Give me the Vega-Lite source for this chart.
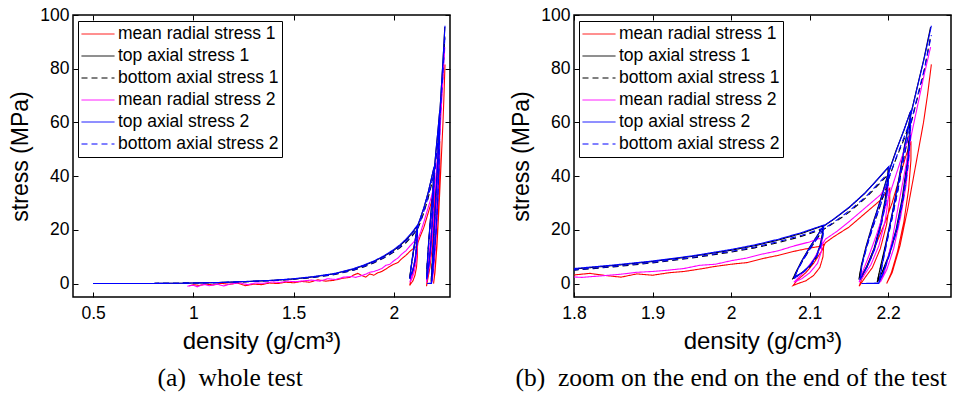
{
"$schema": "https://vega.github.io/schema/vega-lite/v6.json",
"background": "white",
"padding": {"left": 9, "top": 5, "right": 2, "bottom": 2},
"spacing": 58,
"config": {
  "font": "Liberation Sans",
  "view": {"stroke": "black", "strokeWidth": 1.5},
  "axis": {"domain": false, "grid": false, "labelFont": "Liberation Sans", "labelFontSize": 17.5, "labelColor": "black", "titleFont": "Liberation Sans", "titleFontSize": 24, "titleFontWeight": "normal", "titleColor": "black", "tickColor": "black", "tickSize": -5, "labelFlush": false},
  "axisX": {"labelPadding": 12, "titlePadding": 8},
  "axisY": {"labelPadding": 9, "titlePadding": 7, "titleFontSize": 23},
  "legend": {"orient": "none", "legendX": 5, "legendY": 6, "strokeColor": "black", "fillColor": "white", "padding": 3, "labelFont": "Liberation Sans", "labelFontSize": 17.5, "labelColor": "black", "symbolType": "stroke", "symbolSize": 1089, "symbolStrokeWidth": 1, "labelOffset": 3, "rowPadding": 2, "clipHeight": 20, "labelLimit": 300}
},
"datasets": {"d": [
{"s":"mean radial stress 1","i":1,"density":0.98,"stress":-0.8},
{"s":"mean radial stress 1","i":2,"density":1.0,"stress":-0.4},
{"s":"mean radial stress 1","i":3,"density":1.03,"stress":-0.7},
{"s":"mean radial stress 1","i":4,"density":1.06,"stress":-0.2},
{"s":"mean radial stress 1","i":5,"density":1.1,"stress":-0.5},
{"s":"mean radial stress 1","i":6,"density":1.14,"stress":0.1},
{"s":"mean radial stress 1","i":7,"density":1.18,"stress":-0.3},
{"s":"mean radial stress 1","i":8,"density":1.22,"stress":0.2},
{"s":"mean radial stress 1","i":9,"density":1.26,"stress":-0.8},
{"s":"mean radial stress 1","i":10,"density":1.3,"stress":-0.2},
{"s":"mean radial stress 1","i":11,"density":1.34,"stress":-0.4},
{"s":"mean radial stress 1","i":12,"density":1.38,"stress":0.2},
{"s":"mean radial stress 1","i":13,"density":1.42,"stress":0.0},
{"s":"mean radial stress 1","i":14,"density":1.46,"stress":0.5},
{"s":"mean radial stress 1","i":15,"density":1.5,"stress":0.3},
{"s":"mean radial stress 1","i":16,"density":1.54,"stress":0.8},
{"s":"mean radial stress 1","i":17,"density":1.58,"stress":0.5},
{"s":"mean radial stress 1","i":18,"density":1.62,"stress":1.4},
{"s":"mean radial stress 1","i":19,"density":1.66,"stress":0.9},
{"s":"mean radial stress 1","i":20,"density":1.7,"stress":1.2},
{"s":"mean radial stress 1","i":21,"density":1.74,"stress":1.9},
{"s":"mean radial stress 1","i":22,"density":1.78,"stress":2.3},
{"s":"mean radial stress 1","i":23,"density":1.8,"stress":3.2},
{"s":"mean radial stress 1","i":24,"density":1.82,"stress":3.8},
{"s":"mean radial stress 1","i":25,"density":1.84,"stress":3.0},
{"s":"mean radial stress 1","i":26,"density":1.86,"stress":2.4},
{"s":"mean radial stress 1","i":27,"density":1.88,"stress":3.6},
{"s":"mean radial stress 1","i":28,"density":1.9,"stress":3.1},
{"s":"mean radial stress 1","i":29,"density":1.92,"stress":4.0},
{"s":"mean radial stress 1","i":30,"density":1.94,"stress":4.5},
{"s":"mean radial stress 1","i":31,"density":1.96,"stress":5.4},
{"s":"mean radial stress 1","i":32,"density":1.98,"stress":6.4},
{"s":"mean radial stress 1","i":33,"density":2.0,"stress":7.2},
{"s":"mean radial stress 1","i":34,"density":2.02,"stress":7.8},
{"s":"mean radial stress 1","i":35,"density":2.04,"stress":9.3},
{"s":"mean radial stress 1","i":36,"density":2.06,"stress":10.5},
{"s":"mean radial stress 1","i":37,"density":2.08,"stress":12.0},
{"s":"mean radial stress 1","i":38,"density":2.1,"stress":13.2},
{"s":"mean radial stress 1","i":39,"density":2.112,"stress":13.8},
{"s":"mean radial stress 1","i":40,"density":2.118,"stress":14.6},
{"s":"mean radial stress 1","i":41,"density":2.117,"stress":10},
{"s":"mean radial stress 1","i":42,"density":2.113,"stress":6},
{"s":"mean radial stress 1","i":43,"density":2.105,"stress":3},
{"s":"mean radial stress 1","i":44,"density":2.095,"stress":1},
{"s":"mean radial stress 1","i":45,"density":2.085,"stress":0},
{"s":"mean radial stress 1","i":46,"density":2.079,"stress":-0.7},
{"s":"mean radial stress 1","i":47,"density":2.085,"stress":1.5},
{"s":"mean radial stress 1","i":48,"density":2.095,"stress":4},
{"s":"mean radial stress 1","i":49,"density":2.105,"stress":7.5},
{"s":"mean radial stress 1","i":50,"density":2.115,"stress":12},
{"s":"mean radial stress 1","i":51,"density":2.12,"stress":15.2},
{"s":"mean radial stress 1","i":52,"density":2.13,"stress":17.3},
{"s":"mean radial stress 1","i":53,"density":2.15,"stress":21},
{"s":"mean radial stress 1","i":54,"density":2.17,"stress":26},
{"s":"mean radial stress 1","i":55,"density":2.19,"stress":31},
{"s":"mean radial stress 1","i":56,"density":2.202,"stress":35.5},
{"s":"mean radial stress 1","i":57,"density":2.202,"stress":30},
{"s":"mean radial stress 1","i":58,"density":2.198,"stress":22},
{"s":"mean radial stress 1","i":59,"density":2.19,"stress":13},
{"s":"mean radial stress 1","i":60,"density":2.18,"stress":6},
{"s":"mean radial stress 1","i":61,"density":2.17,"stress":2},
{"s":"mean radial stress 1","i":62,"density":2.163,"stress":-1},
{"s":"mean radial stress 1","i":63,"density":2.168,"stress":3},
{"s":"mean radial stress 1","i":64,"density":2.175,"stress":8},
{"s":"mean radial stress 1","i":65,"density":2.185,"stress":15},
{"s":"mean radial stress 1","i":66,"density":2.195,"stress":22},
{"s":"mean radial stress 1","i":67,"density":2.205,"stress":30},
{"s":"mean radial stress 1","i":68,"density":2.215,"stress":40},
{"s":"mean radial stress 1","i":69,"density":2.222,"stress":47},
{"s":"mean radial stress 1","i":70,"density":2.229,"stress":53},
{"s":"mean radial stress 1","i":71,"density":2.229,"stress":46},
{"s":"mean radial stress 1","i":72,"density":2.226,"stress":35},
{"s":"mean radial stress 1","i":73,"density":2.22,"stress":23},
{"s":"mean radial stress 1","i":74,"density":2.212,"stress":12},
{"s":"mean radial stress 1","i":75,"density":2.204,"stress":4},
{"s":"mean radial stress 1","i":76,"density":2.198,"stress":0},
{"s":"mean radial stress 1","i":77,"density":2.205,"stress":4},
{"s":"mean radial stress 1","i":78,"density":2.215,"stress":14},
{"s":"mean radial stress 1","i":79,"density":2.225,"stress":28},
{"s":"mean radial stress 1","i":80,"density":2.235,"stress":44},
{"s":"mean radial stress 1","i":81,"density":2.245,"stress":60},
{"s":"mean radial stress 1","i":82,"density":2.25,"stress":70},
{"s":"mean radial stress 1","i":83,"density":2.255,"stress":81.6},

{"s":"top axial stress 1","i":1,"density":0.5,"stress":0},
{"s":"top axial stress 1","i":2,"density":0.6,"stress":0},
{"s":"top axial stress 1","i":3,"density":0.7,"stress":0},
{"s":"top axial stress 1","i":4,"density":0.8,"stress":0.05},
{"s":"top axial stress 1","i":5,"density":0.9,"stress":0.1},
{"s":"top axial stress 1","i":6,"density":1.0,"stress":0.2},
{"s":"top axial stress 1","i":7,"density":1.1,"stress":0.35},
{"s":"top axial stress 1","i":8,"density":1.2,"stress":0.55},
{"s":"top axial stress 1","i":9,"density":1.3,"stress":0.85},
{"s":"top axial stress 1","i":10,"density":1.4,"stress":1.2},
{"s":"top axial stress 1","i":11,"density":1.5,"stress":1.7},
{"s":"top axial stress 1","i":12,"density":1.6,"stress":2.5},
{"s":"top axial stress 1","i":13,"density":1.7,"stress":3.6},
{"s":"top axial stress 1","i":14,"density":1.8,"stress":5.4},
{"s":"top axial stress 1","i":15,"density":1.85,"stress":6.7},
{"s":"top axial stress 1","i":16,"density":1.9,"stress":8.2},
{"s":"top axial stress 1","i":17,"density":1.95,"stress":10.1},
{"s":"top axial stress 1","i":18,"density":2.0,"stress":12.4},
{"s":"top axial stress 1","i":19,"density":2.03,"stress":14.1},
{"s":"top axial stress 1","i":20,"density":2.06,"stress":16.2},
{"s":"top axial stress 1","i":21,"density":2.09,"stress":18.7},
{"s":"top axial stress 1","i":22,"density":2.117,"stress":21.5},
{"s":"top axial stress 1","i":23,"density":2.116,"stress":18},
{"s":"top axial stress 1","i":24,"density":2.113,"stress":14},
{"s":"top axial stress 1","i":25,"density":2.108,"stress":10},
{"s":"top axial stress 1","i":26,"density":2.1,"stress":6.5},
{"s":"top axial stress 1","i":27,"density":2.09,"stress":4},
{"s":"top axial stress 1","i":28,"density":2.082,"stress":2.6},
{"s":"top axial stress 1","i":29,"density":2.079,"stress":2},
{"s":"top axial stress 1","i":30,"density":2.083,"stress":4.5},
{"s":"top axial stress 1","i":31,"density":2.09,"stress":8.5},
{"s":"top axial stress 1","i":32,"density":2.1,"stress":13.5},
{"s":"top axial stress 1","i":33,"density":2.11,"stress":18},
{"s":"top axial stress 1","i":34,"density":2.117,"stress":21.2},
{"s":"top axial stress 1","i":35,"density":2.13,"stress":23.8},
{"s":"top axial stress 1","i":36,"density":2.15,"stress":28.2},
{"s":"top axial stress 1","i":37,"density":2.17,"stress":33.5},
{"s":"top axial stress 1","i":38,"density":2.185,"stress":38.3},
{"s":"top axial stress 1","i":39,"density":2.2,"stress":43.2},
{"s":"top axial stress 1","i":40,"density":2.199,"stress":38},
{"s":"top axial stress 1","i":41,"density":2.196,"stress":31},
{"s":"top axial stress 1","i":42,"density":2.19,"stress":22},
{"s":"top axial stress 1","i":43,"density":2.182,"stress":13},
{"s":"top axial stress 1","i":44,"density":2.173,"stress":6.5},
{"s":"top axial stress 1","i":45,"density":2.166,"stress":3},
{"s":"top axial stress 1","i":46,"density":2.163,"stress":2},
{"s":"top axial stress 1","i":47,"density":2.166,"stress":7},
{"s":"top axial stress 1","i":48,"density":2.172,"stress":14},
{"s":"top axial stress 1","i":49,"density":2.18,"stress":22},
{"s":"top axial stress 1","i":50,"density":2.19,"stress":31},
{"s":"top axial stress 1","i":51,"density":2.2,"stress":41},
{"s":"top axial stress 1","i":52,"density":2.21,"stress":49.5},
{"s":"top axial stress 1","i":53,"density":2.22,"stress":57},
{"s":"top axial stress 1","i":54,"density":2.228,"stress":63.8},
{"s":"top axial stress 1","i":55,"density":2.227,"stress":56},
{"s":"top axial stress 1","i":56,"density":2.224,"stress":45},
{"s":"top axial stress 1","i":57,"density":2.218,"stress":32},
{"s":"top axial stress 1","i":58,"density":2.21,"stress":20},
{"s":"top axial stress 1","i":59,"density":2.2,"stress":10},
{"s":"top axial stress 1","i":60,"density":2.192,"stress":4},
{"s":"top axial stress 1","i":61,"density":2.186,"stress":0.5},
{"s":"top axial stress 1","i":62,"density":2.19,"stress":6},
{"s":"top axial stress 1","i":63,"density":2.197,"stress":15},
{"s":"top axial stress 1","i":64,"density":2.205,"stress":26},
{"s":"top axial stress 1","i":65,"density":2.213,"stress":38},
{"s":"top axial stress 1","i":66,"density":2.22,"stress":50},
{"s":"top axial stress 1","i":67,"density":2.228,"stress":62},
{"s":"top axial stress 1","i":68,"density":2.236,"stress":72},
{"s":"top axial stress 1","i":69,"density":2.245,"stress":83},
{"s":"top axial stress 1","i":70,"density":2.254,"stress":95.5},

{"s":"bottom axial stress 1","i":1,"density":0.5,"stress":0},
{"s":"bottom axial stress 1","i":2,"density":0.6,"stress":0},
{"s":"bottom axial stress 1","i":3,"density":0.7,"stress":0},
{"s":"bottom axial stress 1","i":4,"density":0.8,"stress":0.05},
{"s":"bottom axial stress 1","i":5,"density":0.9,"stress":0.1},
{"s":"bottom axial stress 1","i":6,"density":1.0,"stress":0.2},
{"s":"bottom axial stress 1","i":7,"density":1.1,"stress":0.3},
{"s":"bottom axial stress 1","i":8,"density":1.2,"stress":0.5},
{"s":"bottom axial stress 1","i":9,"density":1.3,"stress":0.8},
{"s":"bottom axial stress 1","i":10,"density":1.4,"stress":1.1},
{"s":"bottom axial stress 1","i":11,"density":1.5,"stress":1.6},
{"s":"bottom axial stress 1","i":12,"density":1.6,"stress":2.3},
{"s":"bottom axial stress 1","i":13,"density":1.7,"stress":3.3},
{"s":"bottom axial stress 1","i":14,"density":1.8,"stress":5.0},
{"s":"bottom axial stress 1","i":15,"density":1.85,"stress":6.2},
{"s":"bottom axial stress 1","i":16,"density":1.9,"stress":7.7},
{"s":"bottom axial stress 1","i":17,"density":1.95,"stress":9.5},
{"s":"bottom axial stress 1","i":18,"density":2.0,"stress":11.7},
{"s":"bottom axial stress 1","i":19,"density":2.03,"stress":13.3},
{"s":"bottom axial stress 1","i":20,"density":2.06,"stress":15.2},
{"s":"bottom axial stress 1","i":21,"density":2.09,"stress":17.6},
{"s":"bottom axial stress 1","i":22,"density":2.117,"stress":20.3},
{"s":"bottom axial stress 1","i":23,"density":2.116,"stress":17},
{"s":"bottom axial stress 1","i":24,"density":2.113,"stress":13.2},
{"s":"bottom axial stress 1","i":25,"density":2.108,"stress":9.4},
{"s":"bottom axial stress 1","i":26,"density":2.1,"stress":6.1},
{"s":"bottom axial stress 1","i":27,"density":2.09,"stress":3.8},
{"s":"bottom axial stress 1","i":28,"density":2.082,"stress":2.4},
{"s":"bottom axial stress 1","i":29,"density":2.079,"stress":1.9},
{"s":"bottom axial stress 1","i":30,"density":2.083,"stress":4.2},
{"s":"bottom axial stress 1","i":31,"density":2.09,"stress":8},
{"s":"bottom axial stress 1","i":32,"density":2.1,"stress":12.7},
{"s":"bottom axial stress 1","i":33,"density":2.11,"stress":17},
{"s":"bottom axial stress 1","i":34,"density":2.117,"stress":20},
{"s":"bottom axial stress 1","i":35,"density":2.13,"stress":22.4},
{"s":"bottom axial stress 1","i":36,"density":2.15,"stress":26.5},
{"s":"bottom axial stress 1","i":37,"density":2.17,"stress":31.5},
{"s":"bottom axial stress 1","i":38,"density":2.185,"stress":36},
{"s":"bottom axial stress 1","i":39,"density":2.2,"stress":40.6},
{"s":"bottom axial stress 1","i":40,"density":2.199,"stress":35.7},
{"s":"bottom axial stress 1","i":41,"density":2.196,"stress":29.1},
{"s":"bottom axial stress 1","i":42,"density":2.19,"stress":20.7},
{"s":"bottom axial stress 1","i":43,"density":2.182,"stress":12.2},
{"s":"bottom axial stress 1","i":44,"density":2.173,"stress":6.1},
{"s":"bottom axial stress 1","i":45,"density":2.166,"stress":2.8},
{"s":"bottom axial stress 1","i":46,"density":2.163,"stress":1.9},
{"s":"bottom axial stress 1","i":47,"density":2.166,"stress":6.6},
{"s":"bottom axial stress 1","i":48,"density":2.172,"stress":13.2},
{"s":"bottom axial stress 1","i":49,"density":2.18,"stress":20.7},
{"s":"bottom axial stress 1","i":50,"density":2.19,"stress":29.1},
{"s":"bottom axial stress 1","i":51,"density":2.2,"stress":38.5},
{"s":"bottom axial stress 1","i":52,"density":2.21,"stress":46.5},
{"s":"bottom axial stress 1","i":53,"density":2.22,"stress":53.6},
{"s":"bottom axial stress 1","i":54,"density":2.228,"stress":60},
{"s":"bottom axial stress 1","i":55,"density":2.227,"stress":52.6},
{"s":"bottom axial stress 1","i":56,"density":2.224,"stress":42.3},
{"s":"bottom axial stress 1","i":57,"density":2.218,"stress":30.1},
{"s":"bottom axial stress 1","i":58,"density":2.21,"stress":18.8},
{"s":"bottom axial stress 1","i":59,"density":2.2,"stress":9.4},
{"s":"bottom axial stress 1","i":60,"density":2.192,"stress":3.8},
{"s":"bottom axial stress 1","i":61,"density":2.186,"stress":0.5},
{"s":"bottom axial stress 1","i":62,"density":2.19,"stress":5.6},
{"s":"bottom axial stress 1","i":63,"density":2.197,"stress":14.1},
{"s":"bottom axial stress 1","i":64,"density":2.205,"stress":24.4},
{"s":"bottom axial stress 1","i":65,"density":2.213,"stress":35.7},
{"s":"bottom axial stress 1","i":66,"density":2.22,"stress":47},
{"s":"bottom axial stress 1","i":67,"density":2.228,"stress":58.3},
{"s":"bottom axial stress 1","i":68,"density":2.236,"stress":67.7},
{"s":"bottom axial stress 1","i":69,"density":2.245,"stress":78},
{"s":"bottom axial stress 1","i":70,"density":2.254,"stress":92},

{"s":"mean radial stress 2","i":1,"density":0.97,"stress":-1.0},
{"s":"mean radial stress 2","i":2,"density":1.0,"stress":-0.6},
{"s":"mean radial stress 2","i":3,"density":1.02,"stress":-1.2},
{"s":"mean radial stress 2","i":4,"density":1.05,"stress":-0.3},
{"s":"mean radial stress 2","i":5,"density":1.08,"stress":-0.8},
{"s":"mean radial stress 2","i":6,"density":1.12,"stress":-0.2},
{"s":"mean radial stress 2","i":7,"density":1.15,"stress":-0.9},
{"s":"mean radial stress 2","i":8,"density":1.19,"stress":-0.1},
{"s":"mean radial stress 2","i":9,"density":1.23,"stress":0.3},
{"s":"mean radial stress 2","i":10,"density":1.27,"stress":-0.4},
{"s":"mean radial stress 2","i":11,"density":1.31,"stress":0.2},
{"s":"mean radial stress 2","i":12,"density":1.35,"stress":0.1},
{"s":"mean radial stress 2","i":13,"density":1.39,"stress":0.6},
{"s":"mean radial stress 2","i":14,"density":1.43,"stress":0.4},
{"s":"mean radial stress 2","i":15,"density":1.47,"stress":0.9},
{"s":"mean radial stress 2","i":16,"density":1.51,"stress":0.7},
{"s":"mean radial stress 2","i":17,"density":1.55,"stress":1.0},
{"s":"mean radial stress 2","i":18,"density":1.59,"stress":1.3},
{"s":"mean radial stress 2","i":19,"density":1.63,"stress":0.9},
{"s":"mean radial stress 2","i":20,"density":1.67,"stress":1.8},
{"s":"mean radial stress 2","i":21,"density":1.71,"stress":1.5},
{"s":"mean radial stress 2","i":22,"density":1.75,"stress":2.4},
{"s":"mean radial stress 2","i":23,"density":1.79,"stress":2.6},
{"s":"mean radial stress 2","i":24,"density":1.81,"stress":2.3},
{"s":"mean radial stress 2","i":25,"density":1.84,"stress":3.0},
{"s":"mean radial stress 2","i":26,"density":1.86,"stress":3.5},
{"s":"mean radial stress 2","i":27,"density":1.88,"stress":4.2},
{"s":"mean radial stress 2","i":28,"density":1.9,"stress":4.5},
{"s":"mean radial stress 2","i":29,"density":1.92,"stress":5.0},
{"s":"mean radial stress 2","i":30,"density":1.94,"stress":5.6},
{"s":"mean radial stress 2","i":31,"density":1.96,"stress":6.8},
{"s":"mean radial stress 2","i":32,"density":1.98,"stress":7.2},
{"s":"mean radial stress 2","i":33,"density":2.0,"stress":8.5},
{"s":"mean radial stress 2","i":34,"density":2.02,"stress":9.5},
{"s":"mean radial stress 2","i":35,"density":2.04,"stress":11.0},
{"s":"mean radial stress 2","i":36,"density":2.06,"stress":12.2},
{"s":"mean radial stress 2","i":37,"density":2.08,"stress":14.0},
{"s":"mean radial stress 2","i":38,"density":2.1,"stress":15.5},
{"s":"mean radial stress 2","i":39,"density":2.112,"stress":16.8},
{"s":"mean radial stress 2","i":40,"density":2.116,"stress":16.5},
{"s":"mean radial stress 2","i":41,"density":2.115,"stress":12},
{"s":"mean radial stress 2","i":42,"density":2.11,"stress":7.5},
{"s":"mean radial stress 2","i":43,"density":2.1,"stress":4},
{"s":"mean radial stress 2","i":44,"density":2.09,"stress":1.8},
{"s":"mean radial stress 2","i":45,"density":2.08,"stress":0.5},
{"s":"mean radial stress 2","i":46,"density":2.085,"stress":2},
{"s":"mean radial stress 2","i":47,"density":2.095,"stress":5},
{"s":"mean radial stress 2","i":48,"density":2.105,"stress":9},
{"s":"mean radial stress 2","i":49,"density":2.113,"stress":13},
{"s":"mean radial stress 2","i":50,"density":2.12,"stress":16.5},
{"s":"mean radial stress 2","i":51,"density":2.135,"stress":19.5},
{"s":"mean radial stress 2","i":52,"density":2.15,"stress":23},
{"s":"mean radial stress 2","i":53,"density":2.17,"stress":28},
{"s":"mean radial stress 2","i":54,"density":2.19,"stress":33},
{"s":"mean radial stress 2","i":55,"density":2.2,"stress":37},
{"s":"mean radial stress 2","i":56,"density":2.2,"stress":31},
{"s":"mean radial stress 2","i":57,"density":2.196,"stress":23},
{"s":"mean radial stress 2","i":58,"density":2.188,"stress":14},
{"s":"mean radial stress 2","i":59,"density":2.178,"stress":7},
{"s":"mean radial stress 2","i":60,"density":2.168,"stress":2.5},
{"s":"mean radial stress 2","i":61,"density":2.163,"stress":0.5},
{"s":"mean radial stress 2","i":62,"density":2.167,"stress":4},
{"s":"mean radial stress 2","i":63,"density":2.175,"stress":10},
{"s":"mean radial stress 2","i":64,"density":2.185,"stress":18},
{"s":"mean radial stress 2","i":65,"density":2.195,"stress":27},
{"s":"mean radial stress 2","i":66,"density":2.205,"stress":36},
{"s":"mean radial stress 2","i":67,"density":2.215,"stress":45},
{"s":"mean radial stress 2","i":68,"density":2.222,"stress":51},
{"s":"mean radial stress 2","i":69,"density":2.228,"stress":55.7},
{"s":"mean radial stress 2","i":70,"density":2.227,"stress":48},
{"s":"mean radial stress 2","i":71,"density":2.223,"stress":37},
{"s":"mean radial stress 2","i":72,"density":2.216,"stress":25},
{"s":"mean radial stress 2","i":73,"density":2.207,"stress":13},
{"s":"mean radial stress 2","i":74,"density":2.198,"stress":5},
{"s":"mean radial stress 2","i":75,"density":2.19,"stress":0.5},
{"s":"mean radial stress 2","i":76,"density":2.196,"stress":5},
{"s":"mean radial stress 2","i":77,"density":2.205,"stress":16},
{"s":"mean radial stress 2","i":78,"density":2.213,"stress":29},
{"s":"mean radial stress 2","i":79,"density":2.222,"stress":43},
{"s":"mean radial stress 2","i":80,"density":2.23,"stress":56},
{"s":"mean radial stress 2","i":81,"density":2.238,"stress":67},
{"s":"mean radial stress 2","i":82,"density":2.246,"stress":78},
{"s":"mean radial stress 2","i":83,"density":2.254,"stress":88},

{"s":"top axial stress 2","i":1,"density":0.5,"stress":0},
{"s":"top axial stress 2","i":2,"density":0.6,"stress":0},
{"s":"top axial stress 2","i":3,"density":0.7,"stress":0},
{"s":"top axial stress 2","i":4,"density":0.8,"stress":0.05},
{"s":"top axial stress 2","i":5,"density":0.9,"stress":0.1},
{"s":"top axial stress 2","i":6,"density":1.0,"stress":0.2},
{"s":"top axial stress 2","i":7,"density":1.1,"stress":0.35},
{"s":"top axial stress 2","i":8,"density":1.2,"stress":0.6},
{"s":"top axial stress 2","i":9,"density":1.3,"stress":0.9},
{"s":"top axial stress 2","i":10,"density":1.4,"stress":1.25},
{"s":"top axial stress 2","i":11,"density":1.5,"stress":1.8},
{"s":"top axial stress 2","i":12,"density":1.6,"stress":2.6},
{"s":"top axial stress 2","i":13,"density":1.7,"stress":3.7},
{"s":"top axial stress 2","i":14,"density":1.8,"stress":5.6},
{"s":"top axial stress 2","i":15,"density":1.85,"stress":6.9},
{"s":"top axial stress 2","i":16,"density":1.9,"stress":8.4},
{"s":"top axial stress 2","i":17,"density":1.95,"stress":10.3},
{"s":"top axial stress 2","i":18,"density":2.0,"stress":12.7},
{"s":"top axial stress 2","i":19,"density":2.03,"stress":14.4},
{"s":"top axial stress 2","i":20,"density":2.06,"stress":16.5},
{"s":"top axial stress 2","i":21,"density":2.09,"stress":19},
{"s":"top axial stress 2","i":22,"density":2.118,"stress":21.8},
{"s":"top axial stress 2","i":23,"density":2.117,"stress":18.5},
{"s":"top axial stress 2","i":24,"density":2.114,"stress":14.5},
{"s":"top axial stress 2","i":25,"density":2.109,"stress":10.5},
{"s":"top axial stress 2","i":26,"density":2.101,"stress":7},
{"s":"top axial stress 2","i":27,"density":2.091,"stress":4.2},
{"s":"top axial stress 2","i":28,"density":2.083,"stress":2.7},
{"s":"top axial stress 2","i":29,"density":2.08,"stress":1.8},
{"s":"top axial stress 2","i":30,"density":2.084,"stress":4.8},
{"s":"top axial stress 2","i":31,"density":2.091,"stress":8.8},
{"s":"top axial stress 2","i":32,"density":2.101,"stress":13.8},
{"s":"top axial stress 2","i":33,"density":2.111,"stress":18.3},
{"s":"top axial stress 2","i":34,"density":2.118,"stress":21.5},
{"s":"top axial stress 2","i":35,"density":2.131,"stress":24.1},
{"s":"top axial stress 2","i":36,"density":2.151,"stress":28.6},
{"s":"top axial stress 2","i":37,"density":2.171,"stress":33.9},
{"s":"top axial stress 2","i":38,"density":2.186,"stress":38.7},
{"s":"top axial stress 2","i":39,"density":2.201,"stress":43.6},
{"s":"top axial stress 2","i":40,"density":2.2,"stress":38.5},
{"s":"top axial stress 2","i":41,"density":2.197,"stress":31.5},
{"s":"top axial stress 2","i":42,"density":2.191,"stress":22.5},
{"s":"top axial stress 2","i":43,"density":2.183,"stress":13.5},
{"s":"top axial stress 2","i":44,"density":2.174,"stress":6.8},
{"s":"top axial stress 2","i":45,"density":2.167,"stress":3},
{"s":"top axial stress 2","i":46,"density":2.164,"stress":1.5},
{"s":"top axial stress 2","i":47,"density":2.167,"stress":7.5},
{"s":"top axial stress 2","i":48,"density":2.173,"stress":14.5},
{"s":"top axial stress 2","i":49,"density":2.181,"stress":22.5},
{"s":"top axial stress 2","i":50,"density":2.191,"stress":31.5},
{"s":"top axial stress 2","i":51,"density":2.201,"stress":41.5},
{"s":"top axial stress 2","i":52,"density":2.211,"stress":50},
{"s":"top axial stress 2","i":53,"density":2.221,"stress":58},
{"s":"top axial stress 2","i":54,"density":2.229,"stress":64.5},
{"s":"top axial stress 2","i":55,"density":2.228,"stress":56.5},
{"s":"top axial stress 2","i":56,"density":2.225,"stress":45.5},
{"s":"top axial stress 2","i":57,"density":2.219,"stress":32.5},
{"s":"top axial stress 2","i":58,"density":2.211,"stress":20.5},
{"s":"top axial stress 2","i":59,"density":2.201,"stress":10.5},
{"s":"top axial stress 2","i":60,"density":2.194,"stress":4.3},
{"s":"top axial stress 2","i":61,"density":2.188,"stress":0},
{"s":"top axial stress 2","i":62,"density":2.166,"stress":0},
{"s":"top axial stress 2","i":63,"density":2.188,"stress":0.2},
{"s":"top axial stress 2","i":64,"density":2.192,"stress":6.5},
{"s":"top axial stress 2","i":65,"density":2.198,"stress":15.5},
{"s":"top axial stress 2","i":66,"density":2.206,"stress":27},
{"s":"top axial stress 2","i":67,"density":2.214,"stress":39},
{"s":"top axial stress 2","i":68,"density":2.221,"stress":51},
{"s":"top axial stress 2","i":69,"density":2.229,"stress":63},
{"s":"top axial stress 2","i":70,"density":2.237,"stress":73},
{"s":"top axial stress 2","i":71,"density":2.246,"stress":84},
{"s":"top axial stress 2","i":72,"density":2.255,"stress":96},

{"s":"bottom axial stress 2","i":1,"density":0.5,"stress":0},
{"s":"bottom axial stress 2","i":2,"density":0.6,"stress":0},
{"s":"bottom axial stress 2","i":3,"density":0.7,"stress":0},
{"s":"bottom axial stress 2","i":4,"density":0.8,"stress":0.05},
{"s":"bottom axial stress 2","i":5,"density":0.9,"stress":0.1},
{"s":"bottom axial stress 2","i":6,"density":1.0,"stress":0.2},
{"s":"bottom axial stress 2","i":7,"density":1.1,"stress":0.3},
{"s":"bottom axial stress 2","i":8,"density":1.2,"stress":0.55},
{"s":"bottom axial stress 2","i":9,"density":1.3,"stress":0.85},
{"s":"bottom axial stress 2","i":10,"density":1.4,"stress":1.15},
{"s":"bottom axial stress 2","i":11,"density":1.5,"stress":1.7},
{"s":"bottom axial stress 2","i":12,"density":1.6,"stress":2.4},
{"s":"bottom axial stress 2","i":13,"density":1.7,"stress":3.4},
{"s":"bottom axial stress 2","i":14,"density":1.8,"stress":5.1},
{"s":"bottom axial stress 2","i":15,"density":1.85,"stress":6.4},
{"s":"bottom axial stress 2","i":16,"density":1.9,"stress":7.9},
{"s":"bottom axial stress 2","i":17,"density":1.95,"stress":9.7},
{"s":"bottom axial stress 2","i":18,"density":2.0,"stress":12},
{"s":"bottom axial stress 2","i":19,"density":2.03,"stress":13.6},
{"s":"bottom axial stress 2","i":20,"density":2.06,"stress":15.6},
{"s":"bottom axial stress 2","i":21,"density":2.09,"stress":18},
{"s":"bottom axial stress 2","i":22,"density":2.118,"stress":20.7},
{"s":"bottom axial stress 2","i":23,"density":2.117,"stress":17.6},
{"s":"bottom axial stress 2","i":24,"density":2.114,"stress":13.8},
{"s":"bottom axial stress 2","i":25,"density":2.109,"stress":10},
{"s":"bottom axial stress 2","i":26,"density":2.101,"stress":6.7},
{"s":"bottom axial stress 2","i":27,"density":2.091,"stress":4},
{"s":"bottom axial stress 2","i":28,"density":2.083,"stress":2.6},
{"s":"bottom axial stress 2","i":29,"density":2.08,"stress":1.7},
{"s":"bottom axial stress 2","i":30,"density":2.084,"stress":4.6},
{"s":"bottom axial stress 2","i":31,"density":2.091,"stress":8.4},
{"s":"bottom axial stress 2","i":32,"density":2.101,"stress":13.1},
{"s":"bottom axial stress 2","i":33,"density":2.111,"stress":17.4},
{"s":"bottom axial stress 2","i":34,"density":2.118,"stress":20.4},
{"s":"bottom axial stress 2","i":35,"density":2.131,"stress":22.9},
{"s":"bottom axial stress 2","i":36,"density":2.151,"stress":27.2},
{"s":"bottom axial stress 2","i":37,"density":2.171,"stress":32.2},
{"s":"bottom axial stress 2","i":38,"density":2.186,"stress":36.8},
{"s":"bottom axial stress 2","i":39,"density":2.201,"stress":41.4},
{"s":"bottom axial stress 2","i":40,"density":2.2,"stress":36.6},
{"s":"bottom axial stress 2","i":41,"density":2.197,"stress":29.9},
{"s":"bottom axial stress 2","i":42,"density":2.191,"stress":21.4},
{"s":"bottom axial stress 2","i":43,"density":2.183,"stress":12.8},
{"s":"bottom axial stress 2","i":44,"density":2.174,"stress":6.5},
{"s":"bottom axial stress 2","i":45,"density":2.167,"stress":2.9},
{"s":"bottom axial stress 2","i":46,"density":2.164,"stress":1.4},
{"s":"bottom axial stress 2","i":47,"density":2.167,"stress":7.1},
{"s":"bottom axial stress 2","i":48,"density":2.173,"stress":13.8},
{"s":"bottom axial stress 2","i":49,"density":2.181,"stress":21.4},
{"s":"bottom axial stress 2","i":50,"density":2.191,"stress":29.9},
{"s":"bottom axial stress 2","i":51,"density":2.201,"stress":39.4},
{"s":"bottom axial stress 2","i":52,"density":2.211,"stress":47.5},
{"s":"bottom axial stress 2","i":53,"density":2.221,"stress":55.1},
{"s":"bottom axial stress 2","i":54,"density":2.229,"stress":61.3},
{"s":"bottom axial stress 2","i":55,"density":2.228,"stress":53.7},
{"s":"bottom axial stress 2","i":56,"density":2.225,"stress":43.2},
{"s":"bottom axial stress 2","i":57,"density":2.219,"stress":30.9},
{"s":"bottom axial stress 2","i":58,"density":2.211,"stress":19.5},
{"s":"bottom axial stress 2","i":59,"density":2.201,"stress":10},
{"s":"bottom axial stress 2","i":60,"density":2.194,"stress":4.1},
{"s":"bottom axial stress 2","i":61,"density":2.189,"stress":1},
{"s":"bottom axial stress 2","i":62,"density":2.192,"stress":6.2},
{"s":"bottom axial stress 2","i":63,"density":2.198,"stress":14.7},
{"s":"bottom axial stress 2","i":64,"density":2.206,"stress":25.7},
{"s":"bottom axial stress 2","i":65,"density":2.214,"stress":37},
{"s":"bottom axial stress 2","i":66,"density":2.221,"stress":48.5},
{"s":"bottom axial stress 2","i":67,"density":2.229,"stress":59.9},
{"s":"bottom axial stress 2","i":68,"density":2.237,"stress":69.4},
{"s":"bottom axial stress 2","i":69,"density":2.246,"stress":79.8},
{"s":"bottom axial stress 2","i":70,"density":2.255,"stress":92.5}
]},
"resolve": {"scale": {"color": "independent", "strokeDash": "independent"}},
"hconcat": [
{
  "width": 377, "height": 282,
  "title": {"text": "(a)\u00a0\u00a0whole test", "orient": "bottom", "anchor": "middle", "frame": "bounds", "font": "Liberation Serif", "fontSize": 25.5, "fontWeight": "normal", "color": "black", "offset": 12},
  "data": {"name": "d"},
  "layer": [
    {
      "mark": {"type": "line", "strokeWidth": 1.1, "clip": true},
      "encoding": {
        "x": {"field": "density", "type": "quantitative", "scale": {"domain": [0.4, 2.28], "nice": false, "zero": false}, "axis": {"values": [0.5, 1, 1.5, 2], "format": "~g", "title": "density (g/cm³)"}},
        "y": {"field": "stress", "type": "quantitative", "scale": {"domain": [-5, 100], "nice": false, "zero": false}, "axis": {"values": [0, 20, 40, 60, 80, 100], "title": "stress (MPa)"}},
        "color": {"field": "s", "type": "nominal", "scale": {"domain": ["mean radial stress 1", "top axial stress 1", "bottom axial stress 1", "mean radial stress 2", "top axial stress 2", "bottom axial stress 2"], "range": ["#ff0000", "#000000", "#000000", "#ff00ff", "#0000ff", "#0000ff"]}, "legend": {"title": null}},
        "strokeDash": {"field": "s", "type": "nominal", "scale": {"domain": ["mean radial stress 1", "top axial stress 1", "bottom axial stress 1", "mean radial stress 2", "top axial stress 2", "bottom axial stress 2"], "range": [[1, 0], [1, 0], [6, 4], [1, 0], [1, 0], [6, 4]]}, "legend": {"title": null}},
        "order": {"field": "i", "type": "quantitative"}
      }
    },
    {
      "mark": {"type": "point", "opacity": 0, "clip": true},
      "encoding": {
        "x": {"field": "density", "type": "quantitative", "scale": {"domain": [0.4, 2.28], "nice": false, "zero": false}, "axis": {"orient": "top", "values": [0.5, 1, 1.5, 2], "labels": false, "title": null}},
        "y": {"field": "stress", "type": "quantitative", "scale": {"domain": [-5, 100], "nice": false, "zero": false}, "axis": {"orient": "right", "values": [0, 20, 40, 60, 80, 100], "labels": false, "title": null}}
      }
    }
  ],
  "resolve": {"axis": {"x": "independent", "y": "independent"}}
},
{
  "width": 377, "height": 282,
  "title": {"text": "(b)\u00a0\u00a0zoom on the end on the end of the test", "orient": "bottom", "anchor": "middle", "frame": "bounds", "font": "Liberation Serif", "fontSize": 25.5, "fontWeight": "normal", "color": "black", "offset": 12},
  "data": {"name": "d"},
  "layer": [
    {
      "mark": {"type": "line", "strokeWidth": 1.1, "clip": true},
      "encoding": {
        "x": {"field": "density", "type": "quantitative", "scale": {"domain": [1.8, 2.28], "nice": false, "zero": false}, "axis": {"values": [1.8, 1.9, 2, 2.1, 2.2], "format": "~g", "title": "density (g/cm³)"}},
        "y": {"field": "stress", "type": "quantitative", "scale": {"domain": [-5, 100], "nice": false, "zero": false}, "axis": {"values": [0, 20, 40, 60, 80, 100], "title": "stress (MPa)"}},
        "color": {"field": "s", "type": "nominal", "scale": {"domain": ["mean radial stress 1", "top axial stress 1", "bottom axial stress 1", "mean radial stress 2", "top axial stress 2", "bottom axial stress 2"], "range": ["#ff0000", "#000000", "#000000", "#ff00ff", "#0000ff", "#0000ff"]}, "legend": {"title": null}},
        "strokeDash": {"field": "s", "type": "nominal", "scale": {"domain": ["mean radial stress 1", "top axial stress 1", "bottom axial stress 1", "mean radial stress 2", "top axial stress 2", "bottom axial stress 2"], "range": [[1, 0], [1, 0], [6, 4], [1, 0], [1, 0], [6, 4]]}, "legend": {"title": null}},
        "order": {"field": "i", "type": "quantitative"}
      }
    },
    {
      "mark": {"type": "point", "opacity": 0, "clip": true},
      "encoding": {
        "x": {"field": "density", "type": "quantitative", "scale": {"domain": [1.8, 2.28], "nice": false, "zero": false}, "axis": {"orient": "top", "values": [1.8, 1.9, 2, 2.1, 2.2], "labels": false, "title": null}},
        "y": {"field": "stress", "type": "quantitative", "scale": {"domain": [-5, 100], "nice": false, "zero": false}, "axis": {"orient": "right", "values": [0, 20, 40, 60, 80, 100], "labels": false, "title": null}}
      }
    }
  ],
  "resolve": {"axis": {"x": "independent", "y": "independent"}}
}
]
}
